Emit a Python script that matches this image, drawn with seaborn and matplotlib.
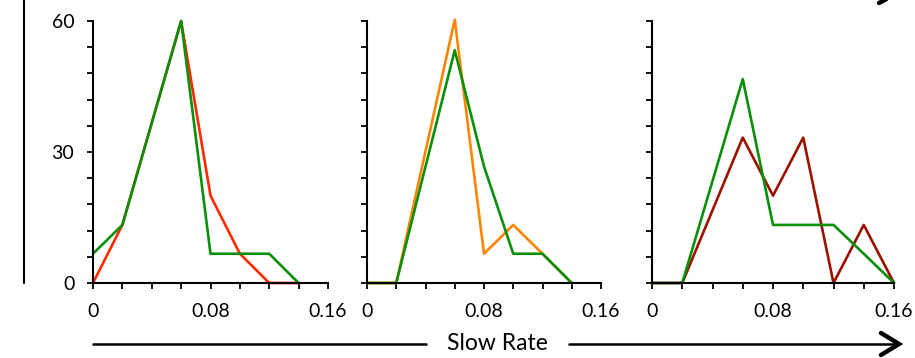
import matplotlib
matplotlib.use("Agg")
import matplotlib.pyplot as plt
from matplotlib.lines import Line2D
import seaborn as sns

# ---- data ----
rate1 = [0, 0.02, 0.06, 0.08, 0.10, 0.12, 0.14]
red1 = [0, 13.3, 60, 20, 6.7, 0, 0]
green1 = [6.7, 13.3, 60, 6.7, 6.7, 6.7, 0]

rate2 = [0, 0.02, 0.06, 0.08, 0.10, 0.12, 0.14]
orange2 = [0, 0, 60.3, 6.7, 13.3, 6.7, 0]
green2 = [0, 0, 53.3, 26.7, 6.7, 6.7, 0]

rate3 = [0, 0.02, 0.06, 0.08, 0.10, 0.12, 0.14, 0.16]
darkred3 = [0, 0, 33.3, 20, 33.3, 0, 13.3, 0]
green3 = [0, 0, 46.7, 13.3, 13.3, 13.3, 6.7, 0]

x_ticks = [0, 0.02, 0.04, 0.06, 0.08, 0.10, 0.12, 0.14, 0.16]
x_labels = ["0", "", "", "", "0.08", "", "", "", "0.16"]
y_ticks = [0, 6, 12, 18, 24, 30, 36, 42, 48, 54, 60]
y_labels = ["0", "", "", "", "", "30", "", "", "", "", "60"]
axis_title = "Slow Rate"

RED = "#ff2a00"
ORANGE = "#ff8400"
GREEN = "#0a8f0a"
DARKRED = "#9b1200"

sns.set_style("ticks")
plt.rcParams["font.family"] = ["Lato", "DejaVu Sans"]

W, H = 915, 358
fig = plt.figure(figsize=(W / 100, H / 100), dpi=100)


def fx(px):
    return px / W


def fy(py):
    return 1 - py / H


panels = [
    (93, 235, [(rate1, red1, RED), (rate1, green1, GREEN)], True),
    (367, 234, [(rate2, orange2, ORANGE), (rate2, green2, GREEN)], False),
    (652, 242, [(rate3, darkred3, DARKRED), (rate3, green3, GREEN)], False),
]

top_px, bot_px = 21, 283
for left, width, series, show_y in panels:
    ax = fig.add_axes([fx(left), fy(bot_px), width / W, (bot_px - top_px) / H])
    for xs, ys, c in series:
        sns.lineplot(x=xs, y=ys, ax=ax, color=c, linewidth=1.9, sort=False,
                     estimator=None, clip_on=False)
    ax.set_xlim(0, 0.16)
    ax.set_ylim(0, 60)
    ax.set_xticks(x_ticks)
    ax.set_xticklabels(x_labels)
    ax.set_yticks(y_ticks)
    ax.set_yticklabels(y_labels if show_y else [""] * len(y_ticks))
    for s in ["top", "right"]:
        ax.spines[s].set_visible(False)
    for s in ["left", "bottom"]:
        ax.spines[s].set_color("black")
        ax.spines[s].set_linewidth(1.5)
    ax.tick_params(axis="both", direction="out", length=4.5, width=1.3,
                   color="black", labelsize=14, labelcolor="black")
    ax.tick_params(axis="x", pad=10)
    ax.tick_params(axis="y", pad=9)
    ax.set_xlabel("")
    ax.set_ylabel("")
    ax.grid(False)
    ax.set_facecolor("none")

# left vertical line
fig.add_artist(Line2D([fx(24), fx(24)], [fy(0), fy(283)], color="black", lw=1.5))

# bottom arrow with label
fig.add_artist(Line2D([fx(93), fx(426)], [fy(344), fy(344)], color="black", lw=1.8))
fig.add_artist(Line2D([fx(569), fx(898)], [fy(344), fy(344)], color="black", lw=1.8))
fig.add_artist(Line2D([fx(881), fx(899), fx(881)], [fy(333), fy(344), fy(355)],
                      color="black", lw=3.2, solid_joinstyle="miter"))
fig.text(fx(497), fy(344), axis_title, ha="center", va="center", fontsize=16.5,
         color="black")

# fragment of arrowhead at top right
fig.add_artist(Line2D([fx(879), fx(892)], [fy(3), fy(-4)], color="black", lw=3.2))

fig.savefig("out.png", dpi=100)
